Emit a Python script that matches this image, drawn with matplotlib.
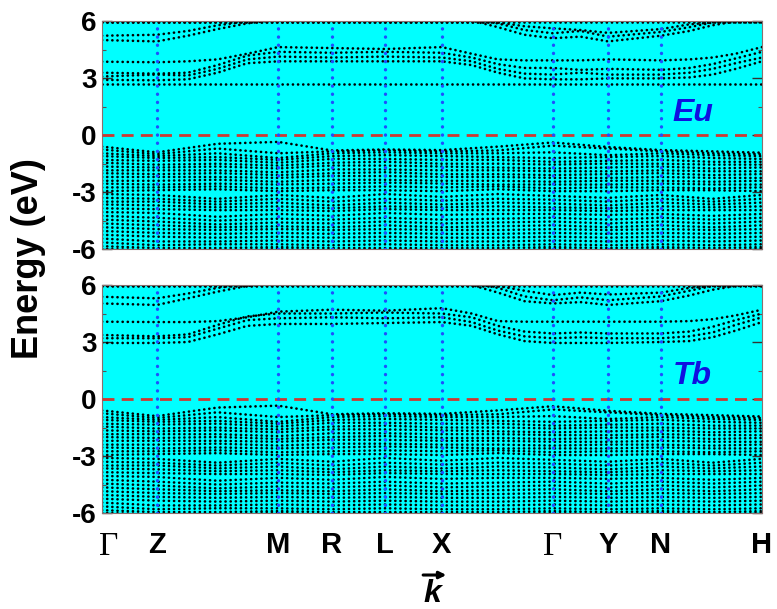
import numpy as np
import matplotlib
matplotlib.use("Agg")
import matplotlib.pyplot as plt
import matplotlib.transforms as mtransforms

plt.rcParams["font.family"] = ["Liberation Sans", "DejaVu Sans"]
plt.rcParams["axes.unicode_minus"] = False

# k-path: high-symmetry points (fraction of total path length)
sym_labels = ["\u0393", "Z", "M", "R", "L", "X", "\u0393", "Y", "N", "H"]
sym_k = [0.0, 0.083, 0.267, 0.348, 0.429, 0.515, 0.683, 0.767, 0.847, 1.0]

# k nodes for valence bands: Γ Z (ZM) M R L X (XΓ) Γ Y N (NH) H
k_val = [0.0, 0.083, 0.175, 0.267, 0.348, 0.429, 0.515, 0.60, 0.683, 0.767, 0.847, 0.925, 1.0]

# k nodes for conduction bands
k_cond = [0.0, 0.083, 0.13, 0.175, 0.22, 0.267, 0.348, 0.429, 0.515, 0.56,
          0.60, 0.64, 0.683, 0.725, 0.767, 0.847, 0.89, 0.925, 0.96, 1.0]

# valence bands (eV)
valence_bands = [
    [-0.60, -0.90, -0.45, -0.35, -0.80, -0.75, -0.78, -0.60, -0.38, -0.62, -0.78, -0.85, -0.92],
    [-0.75, -1.00, -0.70, -0.95, -0.85, -0.80, -0.85, -0.80, -0.55, -0.70, -0.85, -0.95, -1.00],
    [-0.95, -1.10, -0.95, -1.20, -0.95, -0.90, -0.95, -0.95, -0.90, -1.05, -0.95, -1.05, -1.10],
    [-1.10, -1.20, -1.15, -1.30, -1.10, -1.05, -1.10, -1.15, -1.20, -1.15, -1.10, -1.20, -1.25],
    [-1.30, -1.35, -1.30, -1.45, -1.25, -1.25, -1.30, -1.30, -1.40, -1.35, -1.30, -1.40, -1.40],
    [-1.45, -1.55, -1.50, -1.60, -1.45, -1.40, -1.50, -1.50, -1.55, -1.50, -1.50, -1.55, -1.55],
    [-1.65, -1.70, -1.65, -1.75, -1.60, -1.60, -1.65, -1.70, -1.75, -1.70, -1.65, -1.75, -1.70],
    [-1.85, -1.85, -1.85, -1.95, -1.80, -1.80, -1.85, -1.85, -1.90, -1.90, -1.85, -1.90, -1.90],
    [-2.00, -2.05, -2.00, -2.10, -2.00, -1.95, -2.05, -2.05, -2.10, -2.05, -2.00, -2.10, -2.05],
    [-2.20, -2.20, -2.20, -2.25, -2.15, -2.15, -2.20, -2.20, -2.25, -2.25, -2.20, -2.25, -2.25],
    [-2.40, -2.40, -2.35, -2.45, -2.35, -2.35, -2.40, -2.40, -2.45, -2.40, -2.40, -2.45, -2.40],
    [-2.55, -2.60, -2.55, -2.60, -2.55, -2.50, -2.55, -2.60, -2.60, -2.60, -2.55, -2.60, -2.60],
    [-2.75, -2.75, -2.70, -2.80, -2.75, -2.70, -2.75, -2.70, -2.80, -2.75, -2.75, -2.80, -2.75],
    [-2.95, -2.90, -2.85, -2.95, -2.90, -2.90, -2.95, -2.85, -2.95, -2.95, -2.90, -2.90, -2.95],
    [-3.10, -3.15, -3.35, -3.15, -3.30, -3.10, -3.25, -3.10, -3.20, -3.30, -3.15, -3.35, -3.15],
    [-3.30, -3.35, -3.50, -3.35, -3.50, -3.35, -3.45, -3.35, -3.40, -3.50, -3.35, -3.50, -3.35],
    [-3.50, -3.50, -3.65, -3.55, -3.70, -3.55, -3.65, -3.55, -3.60, -3.70, -3.55, -3.65, -3.55],
    [-3.65, -3.70, -3.80, -3.75, -3.85, -3.75, -3.80, -3.75, -3.80, -3.85, -3.75, -3.80, -3.75],
    [-3.85, -3.90, -3.95, -3.95, -4.00, -3.90, -3.95, -3.95, -3.95, -4.00, -3.95, -3.95, -3.95],
    [-4.05, -4.10, -4.30, -4.15, -4.25, -4.10, -4.20, -4.15, -4.15, -4.20, -4.15, -4.25, -4.15],
    [-4.25, -4.35, -4.50, -4.40, -4.45, -4.35, -4.45, -4.40, -4.35, -4.45, -4.35, -4.45, -4.35],
    [-4.45, -4.55, -4.70, -4.60, -4.65, -4.55, -4.65, -4.60, -4.55, -4.65, -4.55, -4.65, -4.55],
    [-4.65, -4.75, -4.85, -4.80, -4.85, -4.75, -4.85, -4.80, -4.75, -4.85, -4.75, -4.85, -4.75],
    [-4.85, -4.95, -5.00, -4.95, -5.00, -4.95, -5.00, -5.00, -4.95, -5.00, -4.95, -5.00, -4.95],
    [-5.05, -5.15, -5.20, -5.15, -5.20, -5.15, -5.20, -5.20, -5.15, -5.20, -5.15, -5.20, -5.15],
    [-5.25, -5.35, -5.40, -5.35, -5.40, -5.35, -5.40, -5.40, -5.35, -5.40, -5.35, -5.40, -5.35],
    [-5.45, -5.60, -5.60, -5.55, -5.60, -5.55, -5.60, -5.60, -5.55, -5.60, -5.55, -5.60, -5.55],
    [-5.65, -5.80, -5.75, -5.75, -5.80, -5.75, -5.80, -5.80, -5.75, -5.80, -5.75, -5.80, -5.75],
    [-5.85, -5.95, -5.95, -5.90, -5.95, -5.95, -5.95, -5.95, -5.90, -5.95, -5.90, -5.95, -5.90],
    [-6.00, -6.05, -6.05, -6.00, -6.05, -6.00, -6.05, -6.05, -6.00, -6.05, -6.00, -6.05, -6.00],
]

# conduction bands, Eu-doped (eV)
conduction_eu = [
    [2.68] * 20,
    [2.92, 2.90, 2.95, 3.30, 3.80, 3.90, 3.90, 3.90, 3.90, 3.70, 3.30, 3.00, 2.95, 2.95, 3.00, 3.00, 3.05, 3.20, 3.50, 3.90],
    [3.10, 3.20, 3.15, 3.50, 4.00, 4.15, 4.10, 4.15, 4.10, 3.90, 3.50, 3.25, 3.20, 3.30, 3.20, 3.20, 3.30, 3.50, 3.80, 4.10],
    [3.30, 3.25, 3.30, 3.70, 4.20, 4.40, 4.35, 4.40, 4.35, 4.10, 3.75, 3.55, 3.55, 3.45, 3.50, 3.45, 3.55, 3.75, 4.05, 4.40],
    [3.88, 3.85, 3.90, 4.00, 4.30, 4.65, 4.60, 4.55, 4.65, 4.30, 4.00, 3.95, 3.95, 3.95, 4.00, 3.95, 4.00, 4.10, 4.30, 4.65],
    [5.02, 4.95, 5.25, 5.60, 5.90, 6.10, 6.10, 6.10, 6.10, 6.05, 5.70, 5.30, 5.12, 5.20, 4.95, 5.25, 5.50, 5.80, 6.00, 6.10],
    [5.25, 5.30, 5.50, 5.80, 6.00, 6.20, 6.20, 6.20, 6.20, 6.10, 5.90, 5.55, 5.38, 5.50, 5.20, 5.45, 5.70, 5.95, 6.10, 6.20],
    [5.95, 5.95, 5.95, 5.95, 5.95, 5.95, 5.95, 5.95, 5.95, 5.95, 5.95, 5.75, 5.64, 5.55, 5.40, 5.60, 5.85, 5.95, 5.95, 5.95],
    [5.97] * 20,
]

# conduction bands, Tb-doped (eV)
conduction_tb = [
    [2.95, 2.95, 3.00, 3.40, 3.85, 3.95, 3.95, 4.00, 4.05, 3.85, 3.40, 3.05, 2.95, 2.95, 2.95, 3.00, 3.05, 3.25, 3.60, 4.05],
    [3.20, 3.20, 3.25, 3.70, 4.15, 4.25, 4.30, 4.25, 4.30, 4.05, 3.60, 3.30, 3.20, 3.25, 3.20, 3.20, 3.30, 3.50, 3.90, 4.30],
    [3.37, 3.30, 3.40, 3.90, 4.35, 4.50, 4.50, 4.55, 4.50, 4.30, 3.85, 3.55, 3.45, 3.50, 3.45, 3.45, 3.55, 3.80, 4.15, 4.50],
    [4.07, 4.05, 4.05, 4.10, 4.30, 4.60, 4.70, 4.65, 4.78, 4.50, 4.10, 4.07, 4.07, 4.07, 4.07, 4.07, 4.10, 4.20, 4.40, 4.70],
    [5.03, 4.95, 5.30, 5.65, 5.95, 6.10, 6.10, 6.10, 6.10, 6.00, 5.60, 5.15, 5.03, 5.10, 4.95, 5.15, 5.45, 5.75, 5.95, 6.10],
    [5.38, 5.30, 5.55, 5.85, 6.05, 6.20, 6.20, 6.20, 6.20, 6.10, 5.85, 5.40, 5.20, 5.35, 5.20, 5.40, 5.70, 5.95, 6.10, 6.20],
    [5.95, 5.95, 5.95, 5.95, 5.95, 5.95, 5.95, 5.95, 5.95, 5.95, 5.95, 5.70, 5.47, 5.60, 5.50, 5.60, 5.85, 5.95, 5.95, 5.95],
    [5.97] * 20,
]

panels = [("Eu", conduction_eu), ("Tb", conduction_tb)]

fig = plt.figure(figsize=(7.77, 6.09), dpi=100)
ax_rects = [[0.1313, 0.5911, 0.8494, 0.3736],
            [0.1313, 0.1576, 0.8494, 0.3744]]

# round dots, evenly spaced along each band
band_style = dict(color="black", lw=1.9, linestyle=(0, (0.05, 1.9)),
                  dash_capstyle="round", zorder=2)

for rect, (name, cond) in zip(ax_rects, panels):
    ax = fig.add_axes(rect)
    ax.set_facecolor("#00FFFF")
    ax.set_xlim(0, 1)
    ax.set_ylim(-6, 6)

    for band in valence_bands:
        ax.plot(k_val, band, **band_style)
    for band in cond:
        ax.plot(k_cond, band, **band_style)

    # Fermi level
    ax.axhline(0, color="#cc3a33", lw=2.0, dashes=(4.3, 2.6), zorder=3)

    # high-symmetry lines
    for kx in sym_k[1:-1]:
        ax.axvline(kx, color="#1f4fff", lw=2.4, linestyle=(0, (0.05, 2.4)),
                   dash_capstyle="round", zorder=4)

    ax.text(0.895, 0.60, name, transform=ax.transAxes, color="#1010e0",
            fontsize=23, fontweight="bold", fontstyle="italic",
            ha="center", va="center", zorder=5)

    ax.set_yticks([-6, -3, 0, 3, 6])
    ax.set_yticks([-4.5, -1.5, 1.5, 4.5], minor=True)
    ax.tick_params(axis="y", which="major", direction="in", length=7,
                   width=1.0, color="#333333", left=True, right=True,
                   labelsize=20, pad=4)
    ax.tick_params(axis="y", which="minor", direction="in", length=3,
                   width=0.8, color="#555555", left=True, right=True)
    for lab in ax.get_yticklabels():
        lab.set_fontweight("bold")

    ax.set_xticks(sym_k)
    ax.tick_params(axis="x", which="major", length=0, pad=13, labelsize=21)
    for sp in ax.spines.values():
        sp.set_color("#8a6f6f")
        sp.set_linewidth(0.8)

    if name == "Tb":
        ax.set_xticklabels(sym_labels)
        shift = mtransforms.ScaledTranslation(7 / 100, 0, fig.dpi_scale_trans)
        for i, (lab, txt) in enumerate(zip(ax.get_xticklabels(), sym_labels)):
            if txt == "\u0393":
                lab.set_family("Liberation Serif")
                lab.set_fontsize(24)
                if i == 0:
                    lab.set_transform(lab.get_transform() + shift)
            else:
                lab.set_fontweight("bold")
    else:
        ax.set_xticklabels([])

fig.text(0.037, 0.575, "Energy (eV)", rotation=90, fontsize=26,
         fontweight="bold", ha="center", va="center")

fig.text(0.557, 0.0246, "k", fontsize=23, fontweight="bold",
         fontstyle="italic", ha="center", va="center")
fig.add_artist(matplotlib.patches.FancyArrowPatch(
    (0.541, 0.0558), (0.578, 0.0558), transform=fig.transFigure,
    arrowstyle="-|>", mutation_scale=10, lw=2.2, color="black"))

fig.savefig("out.png", dpi=100)
